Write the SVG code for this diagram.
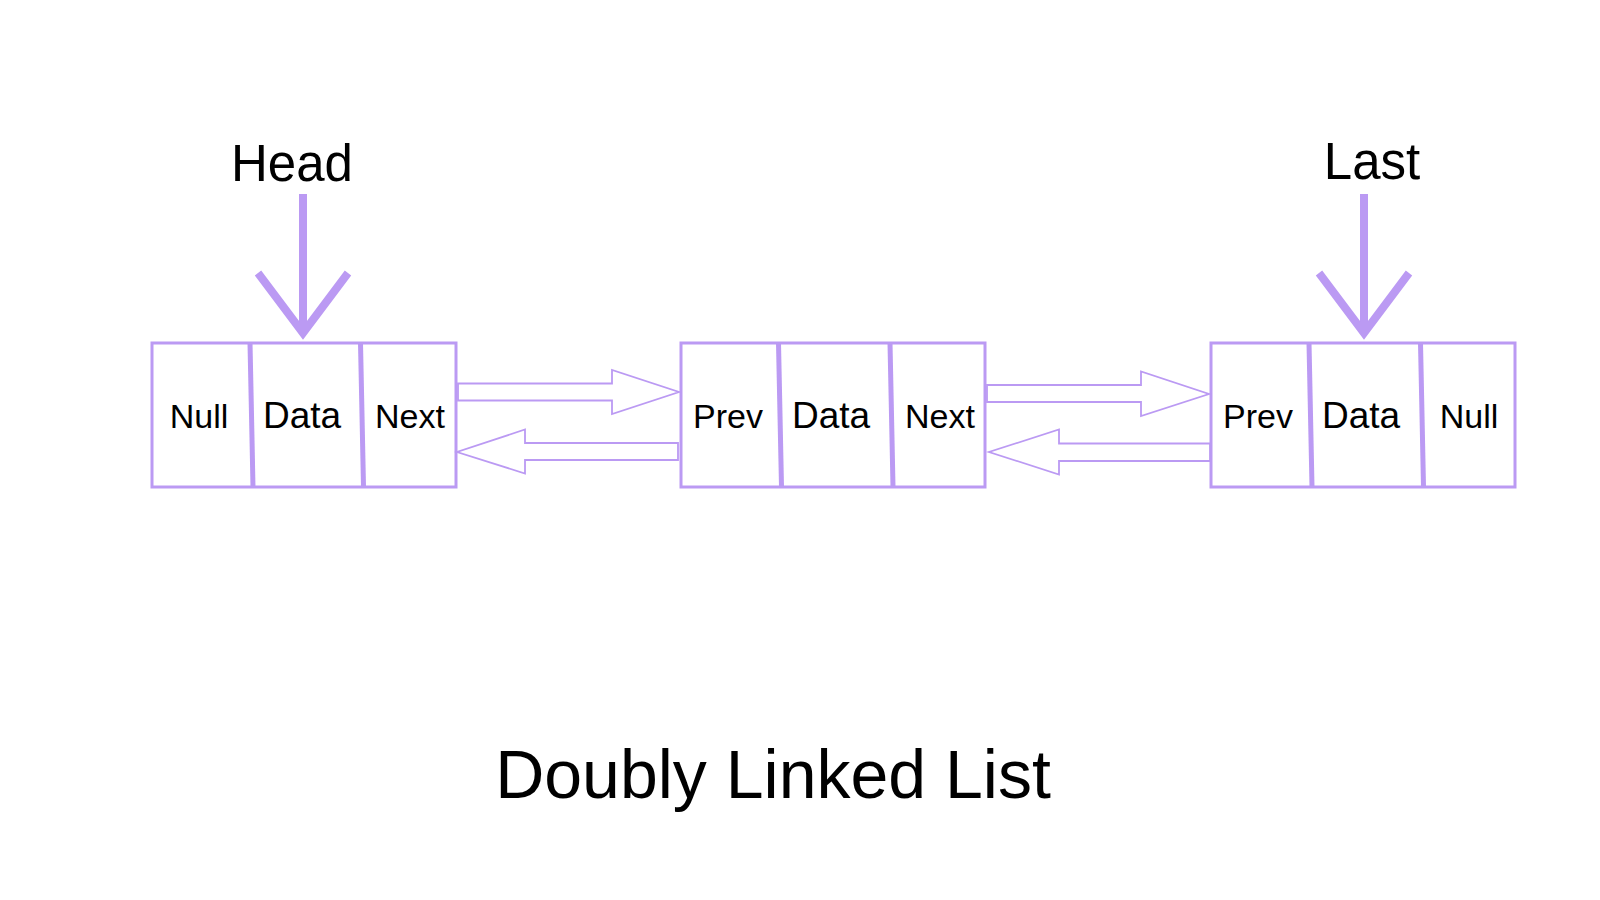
<svg xmlns="http://www.w3.org/2000/svg" width="1600" height="900" viewBox="0 0 1600 900">
<style>
.box{fill:#ffffff;stroke:#bb9af3;stroke-width:3}
.div{stroke:#bb9af3;stroke-width:5;fill:none}
.t{font-family:"Liberation Sans",Arial,sans-serif;font-size:34px;fill:#000;text-anchor:middle}
.d{font-size:37px}
.lbl{font-family:"Liberation Sans",Arial,sans-serif;font-size:51px;fill:#000;text-anchor:middle}
.title{font-family:"Liberation Sans",Arial,sans-serif;font-size:68px;fill:#000;text-anchor:middle}
.blk{fill:#ffffff;stroke:#bb9af3;stroke-width:1.8;stroke-linejoin:miter}
.ptr{stroke:#bb9af3;stroke-width:8;fill:none;stroke-linejoin:miter;stroke-miterlimit:10}
</style>
<rect width="1600" height="900" fill="#ffffff"/>
<g id="node1">
<rect class="box" x="152" y="343" width="304" height="144"/>
<line class="div" x1="250" y1="343" x2="253" y2="487"/>
<line class="div" x1="360.5" y1="343" x2="363.5" y2="487"/>
<text class="t" x="199" y="428">Null</text>
<text class="t d" x="302" y="428">Data</text>
<text class="t" x="410" y="428">Next</text>
</g>
<g id="node2">
<rect class="box" x="681" y="343" width="304" height="144"/>
<line class="div" x1="778.5" y1="343" x2="781.5" y2="487"/>
<line class="div" x1="890" y1="343" x2="893" y2="487"/>
<text class="t" x="728" y="428">Prev</text>
<text class="t d" x="831" y="428">Data</text>
<text class="t" x="940" y="428">Next</text>
</g>
<g id="node3">
<rect class="box" x="1211" y="343" width="304" height="144"/>
<line class="div" x1="1309" y1="343" x2="1312" y2="487"/>
<line class="div" x1="1420.5" y1="343" x2="1423.5" y2="487"/>
<text class="t" x="1258" y="428">Prev</text>
<text class="t d" x="1361" y="428">Data</text>
<text class="t" x="1469" y="428">Null</text>
</g>
<g id="head-label"><text class="lbl" x="292" y="181">Head</text></g>
<g id="last-label"><text class="lbl" x="1372" y="179">Last</text></g>
<g id="connectors">
<line class="ptr" x1="303" y1="194" x2="303" y2="333"/>
<polyline class="ptr" points="258,273 303,333 348,273"/>
<line class="ptr" x1="1364" y1="194" x2="1364" y2="333"/>
<polyline class="ptr" points="1319,273 1364,333 1409,273"/>
<polygon class="blk" points="458,383.5 612,383.5 612,370 679,392 612,414 612,400.5 458,400.5"/>
<polygon class="blk" points="678,443 525,443 525,429.5 457,452 525,473.5 525,460 678,460"/>
<polygon class="blk" points="987,385 1141,385 1141,371.5 1209,394 1141,416 1141,402 987,402"/>
<polygon class="blk" points="1210,443.5 1059,443.5 1059,429.5 989,452 1059,474.5 1059,461 1210,461"/>
</g>
<g id="title"><text class="title" x="773" y="798">Doubly Linked List</text></g>
</svg>
